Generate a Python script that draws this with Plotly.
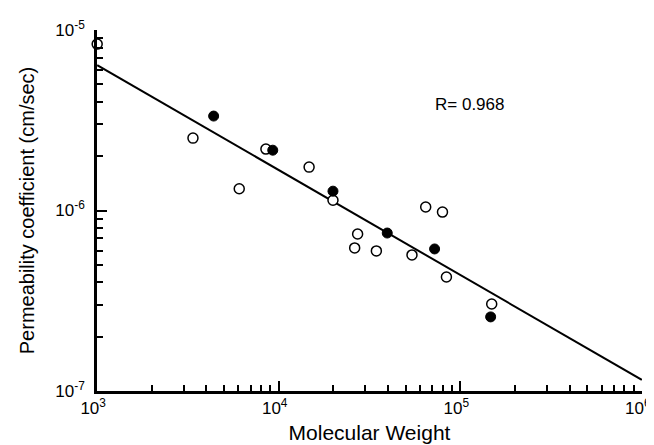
import plotly.graph_objects as go

# Open circles
open_mw = [1000, 3370, 8500, 6060, 14700, 19900, 64500, 79800, 27200, 26200, 34500, 54200, 83900, 149000]
open_p = [8.37e-6, 2.52e-6, 2.19e-6, 1.32e-6, 1.74e-6, 1.14e-6, 1.045e-6, 9.8e-7, 7.41e-7, 6.2e-7, 5.97e-7, 5.67e-7, 4.28e-7, 3.03e-7]

# Filled circles
filled_mw = [4380, 9270, 19900, 39600, 72200, 147000]
filled_p = [3.34e-6, 2.16e-6, 1.28e-6, 7.5e-7, 6.12e-7, 2.57e-7]

# Regression line end points
line_mw = [1e3, 1e6]
line_p = [6.4e-6, 1.15e-7]

r_text = "R= 0.968"

x_major = [1e3, 1e4, 1e5, 1e6]
x_major_text = ["10<sup>3</sup>", "10<sup>4</sup>", "10<sup>5</sup>", "10<sup>6</sup>"]
y_major = [1e-7, 1e-6, 1e-5]
y_major_text = ["10<sup>-7</sup>", "10<sup>-6</sup>", "10<sup>-5</sup>"]

x_minor = [m * 10 ** e for e in (3, 4, 5) for m in range(2, 10)]
y_minor = [m * 10 ** e for e in (-7, -6) for m in range(2, 10)]

font = "Liberation Sans, Arial, Helvetica, sans-serif"

fig = go.Figure()
fig.add_trace(go.Scatter(x=line_mw, y=line_p, mode="lines",
                         line=dict(color="black", width=2), showlegend=False,
                         cliponaxis=False))
fig.add_trace(go.Scatter(x=open_mw, y=open_p, mode="markers",
                         marker=dict(symbol="circle", size=10, color="white",
                                     line=dict(color="black", width=1.5)),
                         showlegend=False, cliponaxis=False))
fig.add_trace(go.Scatter(x=filled_mw, y=filled_p, mode="markers",
                         marker=dict(symbol="circle", size=10, color="black",
                                     line=dict(color="black", width=1)),
                         showlegend=False, cliponaxis=False))

fig.add_annotation(text=r_text, xref="paper", yref="paper", x=0.75, y=0.825,
                   showarrow=False, font=dict(size=17, color="black", family=font))

fig.update_layout(
    width=654, height=445,
    margin=dict(l=89, r=20, t=22, b=62),
    paper_bgcolor="white", plot_bgcolor="white",
    font=dict(family=font, color="black"),
    xaxis=dict(type="log", range=[2.999, 6.001], showgrid=False, zeroline=False,
               showline=True, linecolor="black", linewidth=2.5,
               ticks="inside", ticklen=10, tickwidth=2, tickcolor="black",
               tickvals=x_major, ticktext=x_major_text,
               tickfont=dict(size=17), automargin=False, ticklabelshift=-4,
               minor=dict(tickvals=x_minor, ticks="inside", ticklen=6,
                          tickwidth=1.5, tickcolor="black", showgrid=False),
               title=dict(text="Molecular Weight", font=dict(size=21), standoff=9)),
    yaxis=dict(type="log", range=[-7.001, -4.999], showgrid=False, zeroline=False,
               showline=True, linecolor="black", linewidth=2.5,
               ticks="inside", ticklen=10, tickwidth=2, tickcolor="black",
               tickvals=y_major, ticktext=y_major_text,
               tickfont=dict(size=17), ticklabelstandoff=6, automargin=False,
               minor=dict(tickvals=y_minor, ticks="inside", ticklen=6,
                          tickwidth=1.5, tickcolor="black", showgrid=False),
               title=dict(text="Permeability coefficient (cm/sec)", font=dict(size=20), standoff=16)),
)

fig.write_html("out.html")
